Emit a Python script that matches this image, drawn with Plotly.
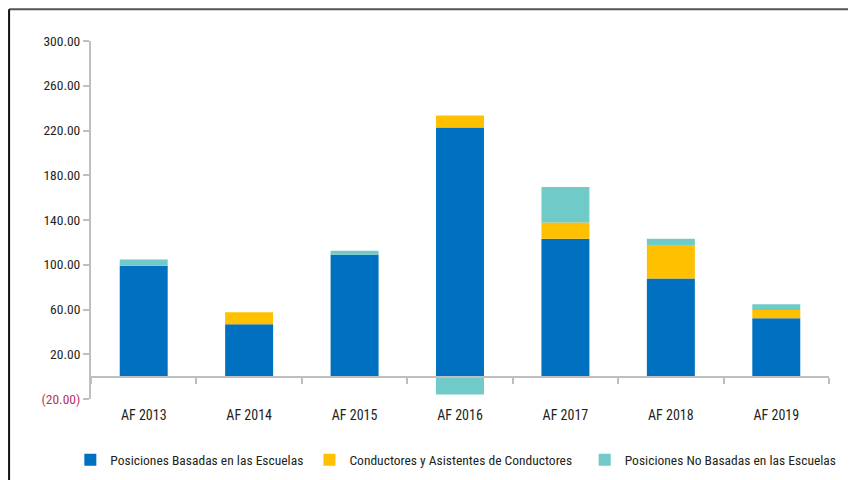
import plotly.graph_objects as go

years = ['AF 2013', 'AF 2014', 'AF 2015', 'AF 2016', 'AF 2017', 'AF 2018', 'AF 2019']
escuelas = [99.2, 46.8, 109.0, 222.7, 123.3, 87.7, 52.2]
conductores = [0, 10.7, 0, 10.7, 14.4, 29.3, 7.3]
no_escuelas = [5.5, 0, 3.5, -16.0, 31.7, 6.2, 5.2]

y_ticks = [300, 260, 220, 180, 140, 100, 60, 20, -20]


def fmt(v):
    # negatives shown in parentheses, in red
    if v < 0:
        return "<span style='color:#B5345A'>(%.2f)</span>" % abs(v)
    return "%.2f" % v


font_family = "Roboto Condensed, Liberation Sans Narrow, Roboto, Arial"

fig = go.Figure()
fig.add_trace(go.Bar(x=years, y=escuelas, name='Posiciones Basadas en las Escuelas',
                     marker_color='#0070C0', marker_line_width=0, legend='legend'))
fig.add_trace(go.Bar(x=years, y=conductores, name='Conductores y Asistentes de Conductores',
                     marker_color='#FFC000', marker_line_width=0, legend='legend2'))
fig.add_trace(go.Bar(x=years, y=no_escuelas, name='Posiciones No Basadas en las Escuelas',
                     marker_color='#6FCAC8', marker_line_width=0, legend='legend3'))

# one legend per series so each entry sits where it does in the original
leg = dict(orientation='h', xanchor='left', y=-0.17, yanchor='middle',
           font=dict(size=13.5), itemwidth=30, bgcolor='rgba(0,0,0,0)')

fig.update_layout(
    barmode='relative',
    bargap=0.545,
    width=856,
    height=480,
    margin=dict(l=83, r=35, t=33, b=89, autoexpand=False),
    plot_bgcolor='white',
    paper_bgcolor='white',
    font=dict(family=font_family, size=13, color='#231F20'),
    showlegend=True,
    legend=dict(leg, x=-0.028),
    legend2=dict(leg, x=0.296),
    legend3=dict(leg, x=0.669),
    xaxis=dict(anchor='free', position=20 / 320, showline=True, linecolor='#BFBFBF',
               linewidth=2, ticks='outside', tickson='boundaries', ticklen=6,
               tickcolor='#BFBFBF', tickwidth=2, ticklabelstandoff=26,
               tickfont=dict(size=14), showgrid=False),
    yaxis=dict(range=[-20, 300], tickvals=y_ticks, ticktext=[fmt(v) for v in y_ticks],
               showline=True, linecolor='#BFBFBF', linewidth=2, ticks='outside',
               ticklen=6, tickcolor='#BFBFBF', tickwidth=2, showgrid=False,
               zeroline=False, tickfont=dict(size=13.5)),
    shapes=[
        dict(type='line', xref='paper', yref='paper', x0=-0.111, x1=1.0325,
             y0=1.089, y1=1.089, line=dict(color='#555555', width=2)),
        dict(type='line', xref='paper', yref='paper', x0=-0.111, x1=-0.111,
             y0=1.089, y1=-0.3, line=dict(color='#111111', width=2)),
        dict(type='line', xref='paper', yref='paper', x0=1.0325, x1=1.0325,
             y0=1.089, y1=-0.3, line=dict(color='#111111', width=2)),
    ],
)

fig.write_html("out.html")
